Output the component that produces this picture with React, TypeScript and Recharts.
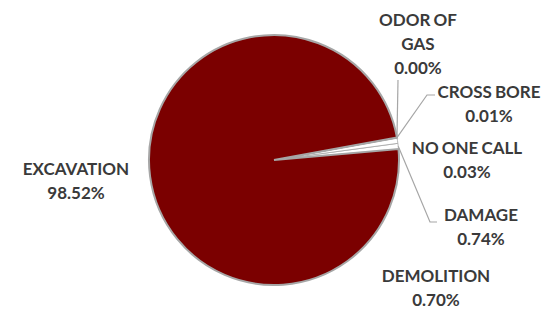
import { Cell, Pie, PieChart } from 'recharts';

const categories = ['DAMAGE', 'DEMOLITION', 'NO ONE CALL', 'CROSS BORE', 'ODOR OF GAS', 'EXCAVATION'];
const shares = [0.74, 0.7, 0.03, 0.01, 0.0, 98.52];

const data = categories.map((name, i) => ({ name, value: shares[i] }));

const colors: Record<string, string> = {
  DAMAGE: '#ffffff',
  DEMOLITION: '#ffffff',
  'NO ONE CALL': '#d42020',
  'CROSS BORE': '#e04040',
  'ODOR OF GAS': '#c00000',
  EXCAVATION: '#7b0000',
};

// label text lines and placement, relative to the pie centre
const labelLines: Record<string, string[]> = {
  EXCAVATION: ['EXCAVATION'],
  'ODOR OF GAS': ['ODOR OF', 'GAS'],
  'CROSS BORE': ['CROSS BORE'],
  'NO ONE CALL': ['NO ONE CALL'],
  DAMAGE: ['DAMAGE'],
  DEMOLITION: ['DEMOLITION'],
};

const labelPos: Record<string, { dx: number; dy: number; leader?: number[][] }> = {
  EXCAVATION: { dx: -198, dy: 9 },
  'ODOR OF GAS': { dx: 144, dy: -140, leader: [[124, -80]] },
  'CROSS BORE': { dx: 215, dy: -68, leader: [[153, -65], [161, -65]] },
  'NO ONE CALL': { dx: 193, dy: -12 },
  DAMAGE: { dx: 207, dy: 55, leader: [[156, 62], [163, 62]] },
  DEMOLITION: { dx: 162, dy: 116 },
};

const RAD = Math.PI / 180;

const renderLabel = (props: any) => {
  const { cx, cy, midAngle, outerRadius, name, value } = props;
  const pos = labelPos[name];
  if (!pos) return null;
  const lines = [...labelLines[name], `${Number(value).toFixed(2)}%`];
  const x = cx + pos.dx;
  const y = cy + pos.dy;
  let leader = null;
  if (pos.leader) {
    const sx = cx + outerRadius * Math.cos(-midAngle * RAD);
    const sy = cy + outerRadius * Math.sin(-midAngle * RAD);
    const pts = [[sx, sy], ...pos.leader.map(([px, py]) => [cx + px, cy + py])];
    leader = (
      <polyline
        points={pts.map((p) => p.join(',')).join(' ')}
        fill="none"
        stroke="#a6a6a6"
        strokeWidth={1.2}
      />
    );
  }
  return (
    <g key={name}>
      {leader}
      {lines.map((t, i) => (
        <text
          key={i}
          x={x}
          y={y + 6 + i * 24}
          textAnchor="middle"
          fill="#3a3a3a"
          fontFamily="Lato"
          fontWeight="bold"
          fontSize={17}
          wordSpacing={-1}
        >
          {t}
        </text>
      ))}
    </g>
  );
};

export default function App() {
  return (
    <div style={{ position: 'absolute', left: 0, top: 0, background: '#fff' }}>
      <PieChart width={542} height={309}>
        <Pie
          data={data}
          dataKey="value"
          nameKey="name"
          cx={269}
          cy={155}
          outerRadius={125}
          startAngle={5}
          endAngle={365}
          stroke="#a6a6a6"
          label={renderLabel}
          labelLine={false}
          isAnimationActive={false}
        >
          {data.map((d) => (
            <Cell
              key={d.name}
              fill={colors[d.name]}
              stroke="#a6a6a6"
              strokeWidth={d.name === 'EXCAVATION' ? 2 : 0.8}
            />
          ))}
        </Pie>
      </PieChart>
    </div>
  );
}
